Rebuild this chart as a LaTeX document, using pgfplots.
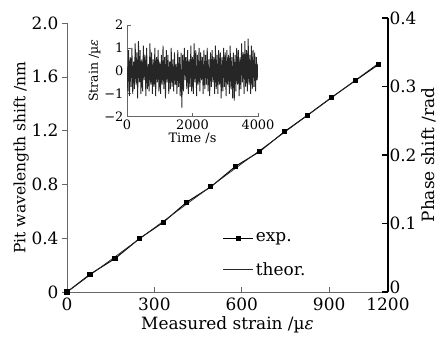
\documentclass[border=0pt]{standalone}
\usepackage{fontspec}
\setmainfont{DejaVu Serif}
\usepackage{pgfplots}
\pgfplotsset{compat=1.18}
\newcommand{\mainfs}{\fontsize{17}{20}\selectfont}
\newcommand{\insfs}{\fontsize{13}{15}\selectfont}
\begin{document}
\begin{tikzpicture}[x=1bp,y=1bp]
\path[use as bounding box] (-67bp,-48bp) rectangle (375bp,292bp);
% main axis
\begin{axis}[
  at={(0bp,0bp)}, anchor=south west,
  scale only axis, width=321bp, height=269bp,
  xmin=0, xmax=1102, ymin=0, ymax=2.0,
  /pgf/number format/assume math mode=true,
  axis x line*=bottom, axis y line*=left,
  axis line style={black!60, line width=0.6pt},
  xtick={0,300,600,900,1102}, xticklabels={0,300,600,900,1200},
  ytick={0,0.4,0.8,1.2,1.6,2.0}, yticklabels={0,0.4,0.8,1.2,1.6,2.0},
  xtick align=inside, ytick align=outside,
  major tick length=5bp,
  tick style={black!60, line width=0.6pt},
  ticklabel style={font=\mainfs},
  xticklabel style={yshift=-2bp},
  label style={font=\mainfs},
  xlabel={Measured strain /µ\textit{ε}},
  ylabel={Pit wavelength shift /nm},
  xlabel style={yshift=1bp},
  ylabel style={font=\fontsize{15.6}{18}\selectfont, yshift=-4bp},
  legend style={draw=none, fill=none, at={(0.485,0.228)}, anchor=north west,
    font=\mainfs, inner sep=0pt, row sep=15bp},
  legend cell align=left,
  legend image code/.code={\draw[mark repeat=2,mark phase=2,#1] plot coordinates {(0bp,0bp)(15bp,0bp)(30bp,0bp)};},
  clip=false,
]
\addplot[black, line width=1pt, mark=square*, mark size=2.1pt, mark options={solid}] coordinates {
(0,0) (79,0.132) (165,0.249) (248,0.396) (331,0.519) (411,0.668) (494,0.782)
(579,0.935) (660,1.042) (746,1.191) (826,1.315) (909,1.448) (990,1.572) (1069,1.691)
};
\addlegendentry{exp.}
\addplot[black!85, line width=0.7pt] coordinates {(0,0) (1069,1.70)};
\addlegendentry{theor.}
\end{axis}
% right axis
\begin{axis}[
  at={(0bp,0bp)}, anchor=south west,
  scale only axis, width=321bp, height=274bp,
  xmin=0, xmax=1102, ymin=0, ymax=0.4,
  /pgf/number format/assume math mode=true,
  hide x axis,
  axis y line*=right,
  axis line style={black, line width=1.6pt},
  ytick={0.1,0.2,0.3,0.4}, yticklabels={0.1,0.2,0.3,0.4},
  extra y ticks={0}, extra y tick labels={0},
  extra y tick style={yticklabel style={yshift=5bp}},
  ytick align=inside,
  major tick length=6bp,
  tick style={black, line width=1.6pt},
  ticklabel style={font=\mainfs},
  yticklabel style={xshift=-2bp},
  label style={font=\mainfs},
  ylabel={Phase shift /rad},
  ylabel style={yshift=2bp},
]
\addplot[draw=none] coordinates {(0,0)};
\end{axis}
% inset
\begin{axis}[
  at={(60bp,175.3bp)}, anchor=south west,
  scale only axis, width=131bp, height=91.7bp,
  xmin=0, xmax=4000, ymin=-2, ymax=2,
  /pgf/number format/assume math mode=true,
  axis x line*=bottom, axis y line*=left,
  axis line style={black!60, line width=0.6pt},
  xtick={0,2000,4000}, xticklabels={0,2000,4000},
  ytick={-2,-1,0,1,2}, yticklabels={−2,−1,0,1,2},
  tick align=inside, major tick length=4bp,
  tick style={black!60, line width=0.6pt},
  ticklabel style={font=\insfs},
  xlabel={Time /s}, ylabel={Strain /µ\textit{ε}},
  xlabel style={font=\insfs, yshift=4bp},
  ylabel style={font=\fontsize{12.5}{14}\selectfont, yshift=-3bp},
]
\addplot[black!85, line width=0.9pt] coordinates {
(0,0.2)(25,-0.9)(50,0.9)(75,-1.1)(100,0.6)(125,-0.7)(150,1.0)(175,-1.0)(200,0.4)(225,-0.8)
(250,1.2)(275,-0.6)(300,0.8)(325,-1.2)(350,1.3)(375,-0.5)(400,0.9)(425,-1.0)(450,0.5)(475,-0.9)
(500,1.1)(525,-0.4)(550,0.7)(575,-1.1)(600,1.0)(625,-0.8)(650,0.3)(675,-0.9)(700,1.2)(725,-0.6)
(750,0.8)(775,-1.0)(800,0.5)(825,-0.7)(850,1.0)(875,-1.1)(900,0.6)(925,-0.5)(950,0.9)(975,-0.9)
(1000,0.4)(1025,-1.0)(1050,0.7)(1075,-0.6)(1100,1.1)(1125,-0.8)(1150,0.6)(1175,-1.2)(1200,0.9)(1225,-0.5)
(1250,0.7)(1275,-1.0)(1300,0.4)(1325,-0.8)(1350,1.0)(1375,-0.7)(1400,0.5)(1425,-0.9)(1450,0.8)(1475,-0.6)
(1500,0.3)(1525,-1.0)(1550,0.9)(1575,-0.7)(1600,0.6)(1625,-1.1)(1650,0.8)(1675,-1.6)(1700,0.7)(1725,-0.9)
(1750,1.0)(1775,-0.4)(1800,0.6)(1825,-0.8)(1850,0.9)(1875,-1.0)(1900,0.5)(1925,-0.7)(1950,1.1)(1975,-0.9)
(2000,0.6)(2025,-1.0)(2050,1.2)(2075,-0.5)(2100,0.9)(2125,-1.1)(2150,0.7)(2175,-0.6)(2200,1.0)(2225,-0.9)
(2250,0.8)(2275,-0.4)(2300,0.6)(2325,-1.0)(2350,0.9)(2375,-0.8)(2400,0.7)(2425,-0.6)(2450,1.0)(2475,-0.9)
(2500,0.5)(2525,-1.1)(2550,0.8)(2575,-0.7)(2600,0.9)(2625,-0.5)(2650,0.6)(2675,-1.0)(2700,1.1)(2725,-0.8)
(2750,0.7)(2775,-1.0)(2800,0.9)(2825,-0.6)(2850,0.8)(2875,-1.2)(2900,0.6)(2925,-0.9)(2950,1.0)(2975,-0.7)
(3000,0.8)(3025,-1.1)(3050,0.9)(3075,-0.6)(3100,0.7)(3125,-1.0)(3150,1.1)(3175,-0.8)(3200,0.6)(3225,-1.2)
(3250,0.8)(3275,-1.3)(3300,0.7)(3325,-0.9)(3350,1.0)(3375,-0.6)(3400,0.9)(3425,-1.1)(3450,0.6)(3475,-0.8)
(3500,1.2)(3525,-0.5)(3550,0.8)(3575,-1.0)(3600,1.3)(3625,-0.7)(3650,0.9)(3675,-0.9)(3700,1.4)(3725,-0.6)
(3750,0.7)(3775,-1.0)(3800,1.1)(3825,-0.8)(3850,0.9)(3875,-0.7)(3900,0.8)(3925,-0.9)(3950,0.6)(3975,-0.4)(4000,0.3)
};
\end{axis}
\end{tikzpicture}
\end{document}
